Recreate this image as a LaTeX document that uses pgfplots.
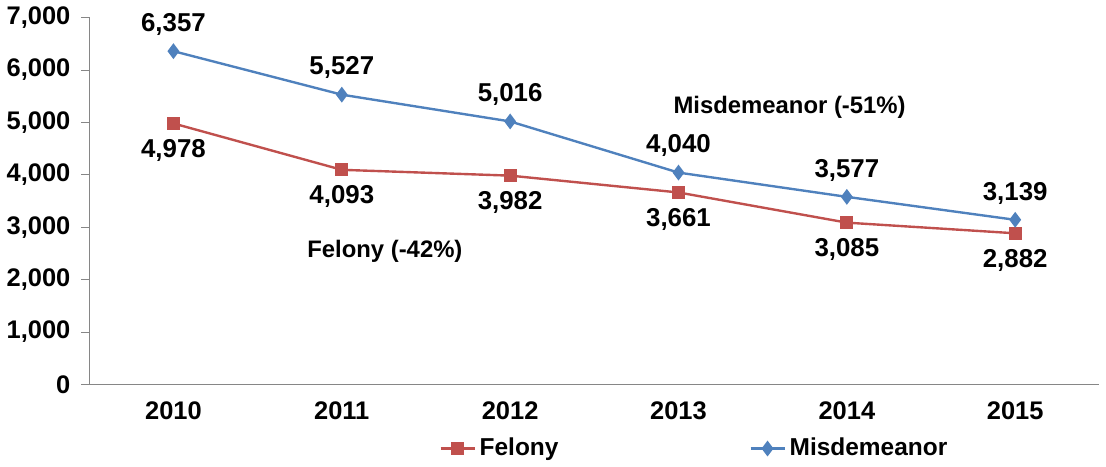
\documentclass[border=0pt]{standalone}
\usepackage{fontspec}
\setmainfont{Liberation Sans}
\usepackage{pgfplots}
\pgfplotsset{compat=1.18}
\definecolor{felred}{RGB}{192,80,77}
\definecolor{misblue}{RGB}{79,129,189}
\definecolor{axgray}{RGB}{134,134,134}

\begin{document}
\begin{tikzpicture}
\begin{axis}[
  scale only axis,
  width=508pt, height=184.5pt,
  xmin=-0.5, xmax=5.5,
  ymin=0, ymax=7000,
  axis x line=bottom, axis y line=left,
  axis line style={draw=axgray,-},
  xtick={0,...,5},
  xticklabels={2010,2011,2012,2013,2014,2015},
  major x tick style={draw=none},
  extra x ticks={-0.5,0.5,1.5,2.5,3.5,4.5,5.5},
  extra x tick labels={},
  extra x tick style={tick align=outside, major tick length=4pt, tick style={draw=axgray}},
  ytick={0,1000,...,7000},
  y tick style={draw=axgray},
  tick align=outside,
  major tick length=4pt,
  /pgf/number format/assume math mode=true,
  /pgf/number format/1000 sep={,},
  scaled y ticks=false,
  yticklabel style={font=\fontsize{12.8}{14}\selectfont\bfseries, xshift=-2pt},
  xticklabel style={font=\fontsize{12.8}{14}\selectfont\bfseries, yshift=-1pt},
  nodes near coords,
  every node near coord/.append style={font=\fontsize{13}{14}\selectfont\bfseries, black},
  legend style={at={(0.6,-0.175)}, anchor=center, draw=none, legend columns=2,
    font=\fontsize{12.3}{14}\selectfont\bfseries,
    /tikz/every even column/.append style={column sep=94pt}},
  legend cell align=left,
  clip=false,
]
\addplot[color=felred, line width=1.2pt, mark=square*, mark size=2.6pt,
  every node near coord/.append style={anchor=north, yshift=-4pt}]
  coordinates {(0,4978) (1,4093) (2,3982) (3,3661) (4,3085) (5,2882)};
\addlegendentry{Felony}
\addplot[color=misblue, line width=1.2pt, mark=diamond*, mark size=3pt,
  every node near coord/.append style={anchor=south, yshift=4pt}]
  coordinates {(0,6357) (1,5527) (2,5016) (3,4040) (4,3577) (5,3139)};
\addlegendentry{Misdemeanor}
\node[font=\fontsize{12}{14}\selectfont\bfseries] at (axis cs:3.66,5293) {Misdemeanor (-51\%)};
\node[font=\fontsize{12}{14}\selectfont\bfseries] at (axis cs:1.256,2542) {Felony (-42\%)};
\end{axis}
\end{tikzpicture}
\end{document}
